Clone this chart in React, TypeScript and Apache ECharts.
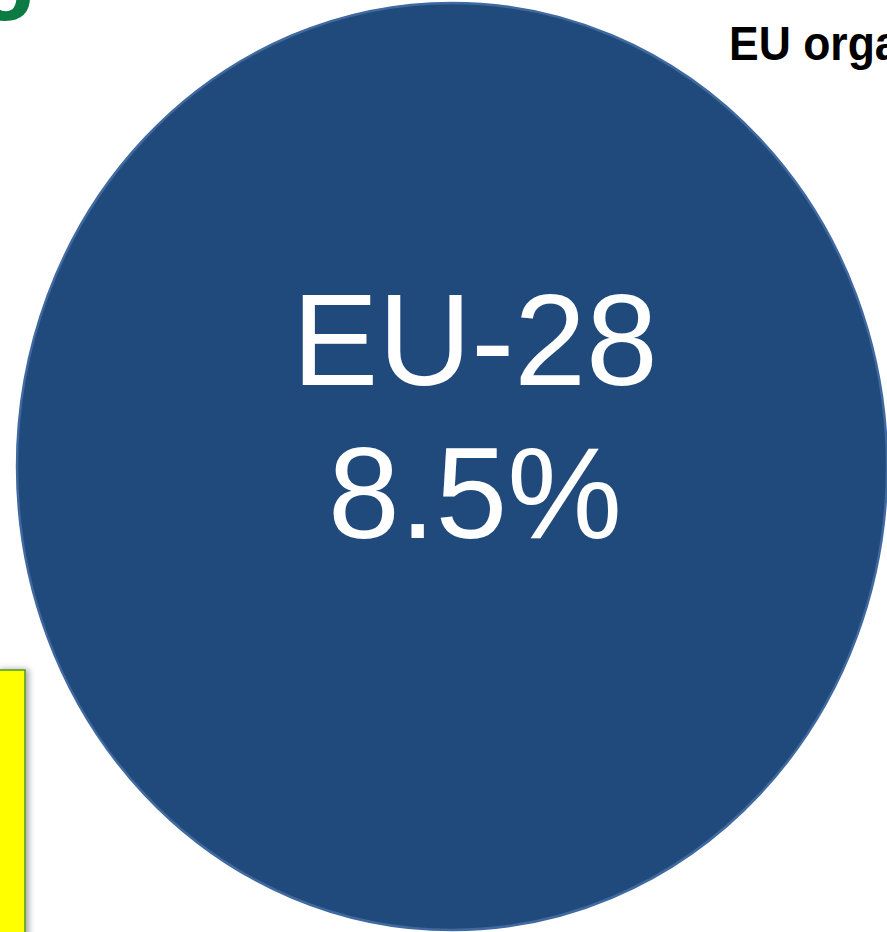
import React, { useEffect, useRef } from "react";
import * as echarts from "echarts";

const regions = ["EU-28"];
const shares = [8.5];
const titleText = "EU organic area";
const cornerText = "g";

export default function App() {
  const ref = useRef<HTMLDivElement>(null);
  useEffect(() => {
    document.body.style.margin = "0";
    const chart = echarts.init(ref.current!, null, { renderer: "svg" });
    const yMax = Math.max(...shares) * 2;
    chart.setOption({
      animation: false,
      backgroundColor: "#ffffff",
      grid: { left: 17, right: 0, top: 3, bottom: 2 },
      xAxis: { type: "category", data: regions, show: false },
      yAxis: { type: "value", min: 0, max: yMax, show: false },
      series: [
        {
          type: "scatter",
          data: shares,
          symbol: "path://M0 50 A50 50 0 1 0 100 50 A50 50 0 1 0 0 50 Z",
          symbolSize: [870, 927],
          itemStyle: { color: "#214A7C", borderColor: "#4069A0", borderWidth: 2.5, opacity: 1 },
          label: {
            show: true,
            position: "inside",
            offset: [23, -50],
            formatter: (p: any) => `${regions[p.dataIndex]}\n${shares[p.dataIndex]}%`,
            color: "#ffffff",
            fontSize: 129,
            lineHeight: 153,
            fontFamily: "Liberation Sans, Arial, sans-serif",
            align: "center",
          },
          emphasis: { disabled: true },
          z: 2,
        },
      ],
      graphic: [
        {
          type: "text",
          x: 729,
          y: 19,
          scaleY: 1.067,
          style: {
            text: titleText,
            font: "bold 44.5px 'Liberation Sans', Arial, sans-serif",
            fill: "#000000",
            verticalAlign: "top",
          },
          z: 10,
        },
        {
          type: "text",
          x: -24,
          y: -91,
          scaleY: 1.067,
          style: {
            text: cornerText,
            font: "bold 100px 'Liberation Sans', Arial, sans-serif",
            fill: "#0B7A43",
            verticalAlign: "top",
          },
          z: 10,
        },
        {
          type: "rect",
          shape: { x: -3, y: 670, width: 28, height: 280 },
          style: {
            fill: "#FFFF00",
            stroke: "#4C9A2A",
            lineWidth: 1.5,
            shadowBlur: 6,
            shadowOffsetX: 3,
            shadowColor: "rgba(0,0,0,0.35)",
          },
          z: 10,
        },
      ],
    });
    return () => chart.dispose();
  }, []);
  return <div ref={ref} style={{ width: 887, height: 932, position: "fixed", left: 0, top: 0 }} />;
}
